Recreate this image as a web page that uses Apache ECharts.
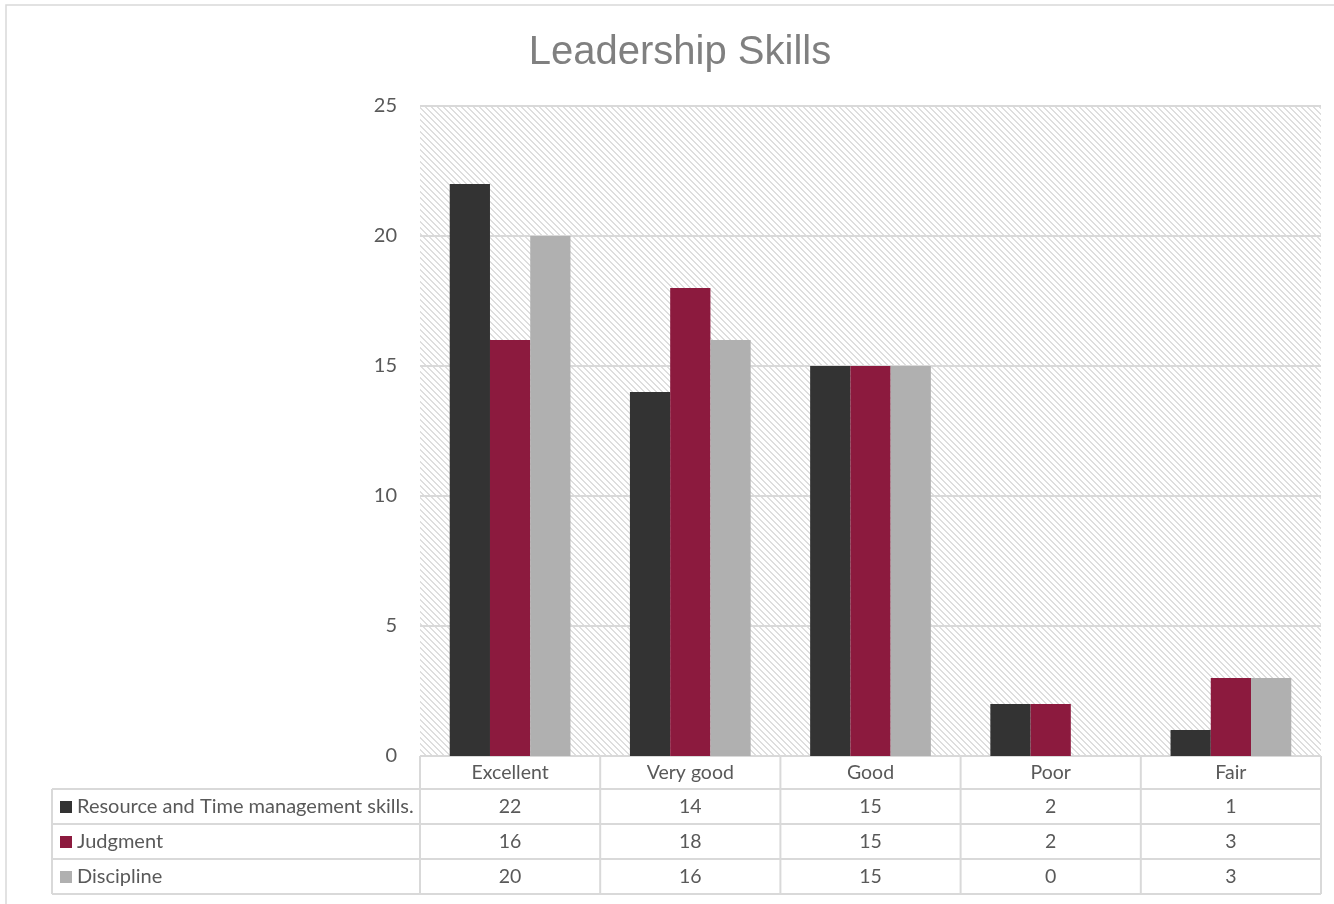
<!DOCTYPE html>
<html>
<head>
<meta charset="utf-8">
<script src="https://cdn.jsdelivr.net/npm/echarts@6/dist/echarts.min.js"></script>
<style>
html,body{margin:0;padding:0;background:#fff;}
#chart{width:1334px;height:904px;}
</style>
</head>
<body>
<div id="chart"></div>
<script>
// ---- data ----
var title = 'Leadership Skills';
var categories = ['Excellent', 'Very good', 'Good', 'Poor', 'Fair'];
var seriesNames = ['Resource and Time management skills.', 'Judgment', 'Discipline'];
var resourceTime = [22, 14, 15, 2, 1];
var judgment = [16, 18, 15, 2, 3];
var discipline = [20, 16, 15, 0, 3];
var yTicks = [0, 5, 10, 15, 20, 25];

// ---- styling / layout ----
var colors = ['#333333', '#8C1A3E', '#B0B0B0'];
var seriesValues = [resourceTime, judgment, discipline];
var textColor = '#595959';
var lineColor = '#D9D9D9';
var bodyFont = 'Lato, "Open Sans", sans-serif';
var tableFontSize = 19.5;
var gridL = 420, gridR = 1321, gridT = 106, gridB = 756;
var rowH = 35, headerH = 33, tableLeft = 52;

// hatch pattern (downward diagonal)
var P = 6;
var pc = document.createElement('canvas');
pc.width = P; pc.height = P;
var pctx = pc.getContext('2d');
pctx.fillStyle = '#ffffff';
pctx.fillRect(0, 0, P, P);
pctx.fillStyle = '#DEDEDE';
for (var i = 0; i < P; i++) {
  pctx.fillRect(i, i, 1, 1);
  pctx.fillRect((i + 1) % P, i, 1, 1);
}

var chart = echarts.init(document.getElementById('chart'), null, {renderer: 'canvas'});

var xAxes = [{
  type: 'category',
  data: categories,
  position: 'bottom',
  axisLine: {show: false},
  axisTick: {show: false},
  axisLabel: {color: textColor, fontSize: tableFontSize, fontFamily: bodyFont, lineHeight: 20, margin: 7}
}];
seriesValues.forEach(function (vals, k) {
  xAxes.push({
    type: 'category',
    data: categories,
    position: 'bottom',
    offset: headerH + k * rowH,
    axisLine: {show: false},
    axisTick: {show: false},
    axisLabel: {
      color: textColor, fontSize: tableFontSize, fontFamily: bodyFont, lineHeight: 20, margin: 8,
      formatter: (function (v) { return function (val, idx) { return String(v[idx]); }; })(vals)
    }
  });
});

// table lines (layout only)
var graphics = [];
function hline(x1, x2, y) { graphics.push({type: 'line', shape: {x1: x1, y1: y, x2: x2, y2: y}, style: {stroke: lineColor, lineWidth: 2}, silent: true}); }
function vline(x, y1, y2) { graphics.push({type: 'line', shape: {x1: x, y1: y1, x2: x, y2: y2}, style: {stroke: lineColor, lineWidth: 2}, silent: true}); }
graphics.push({type: 'rect', shape: {x: 6, y: 5, width: 1400, height: 1000}, style: {fill: 'none', stroke: lineColor, lineWidth: 1.5}, silent: true, z: -10});
var tableBottom = gridB + headerH + rowH * seriesNames.length;
hline(gridL, gridR, gridB);
for (var r = 0; r <= seriesNames.length; r++) { hline(tableLeft, gridR, gridB + headerH + r * rowH); }
var colW = (gridR - gridL) / categories.length;
for (var c = 0; c <= categories.length; c++) { vline(gridL + c * colW, gridB, tableBottom); }
vline(tableLeft, gridB + headerH, tableBottom);

var option = {
  backgroundColor: '#ffffff',
  title: {
    text: title, left: 675, top: 28, textAlign: 'center',
    textStyle: {color: '#808080', fontSize: 40, fontWeight: 'normal', fontFamily: '"Liberation Sans", Arial, sans-serif'}
  },
  legend: {
    orient: 'vertical', left: 55, top: gridB + headerH + 3,
    itemWidth: 12, itemHeight: 12, itemGap: 15, icon: 'rect',
    textStyle: {color: textColor, fontSize: 20, fontFamily: bodyFont, lineHeight: 20},
    data: seriesNames
  },
  grid: {
    left: gridL, right: 1334 - gridR, top: gridT, bottom: 904 - gridB,
    show: true, borderWidth: 0,
    backgroundColor: {image: pc, repeat: 'repeat'}
  },
  xAxis: xAxes,
  yAxis: {
    type: 'value', min: yTicks[0], max: yTicks[yTicks.length - 1], interval: 5,
    axisLine: {show: false}, axisTick: {show: false},
    axisLabel: {color: textColor, fontSize: 20, fontFamily: bodyFont, margin: 23},
    splitLine: {lineStyle: {color: lineColor, width: 2}}
  },
  series: seriesNames.map(function (name, k) {
    return {
      name: name, type: 'bar', xAxisIndex: 0, data: seriesValues[k],
      itemStyle: {color: colors[k]},
      barGap: '0%', barCategoryGap: '33%'
    };
  }),
  graphic: graphics,
  animation: false
};
chart.setOption(option);
</script>
</body>
</html>
